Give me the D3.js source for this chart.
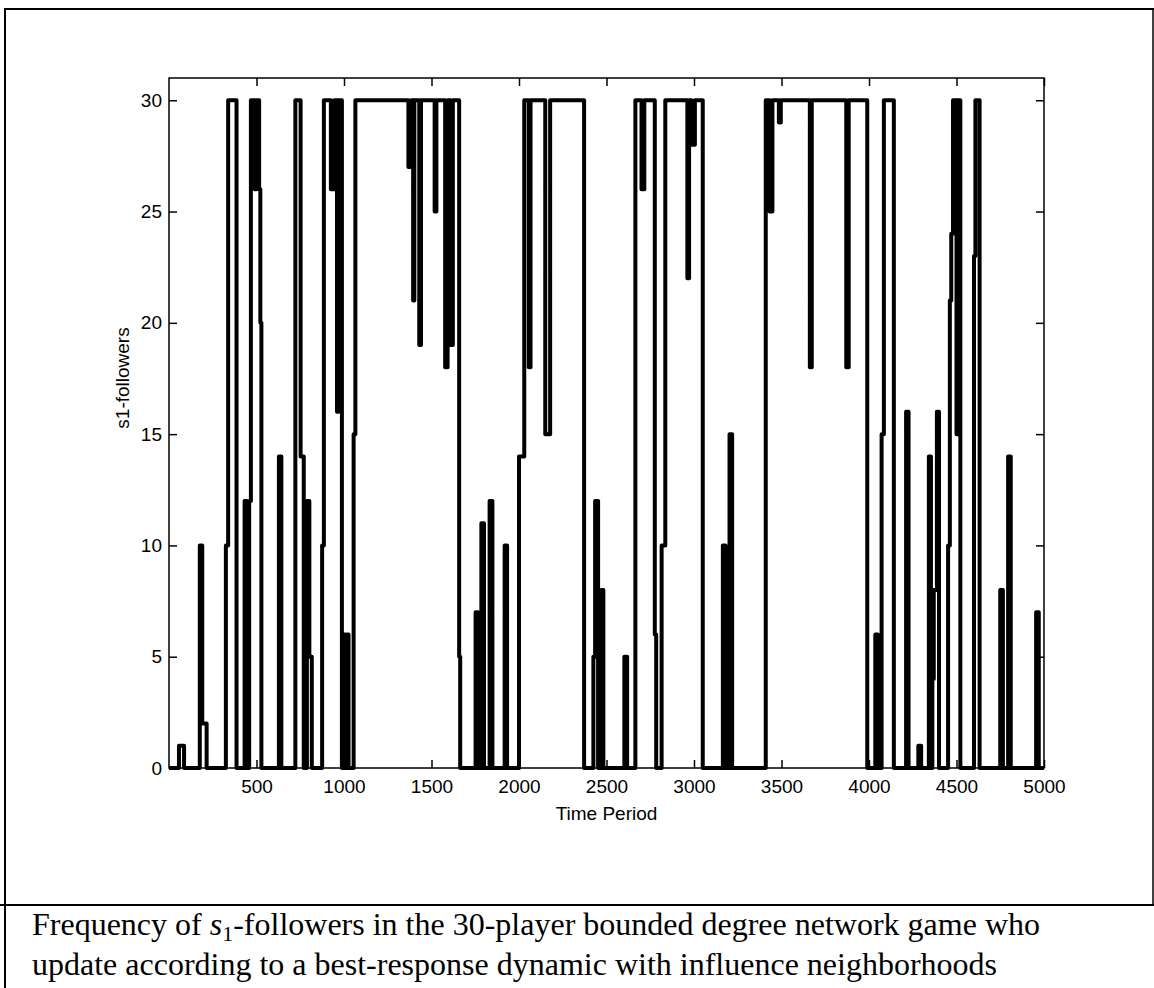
<!DOCTYPE html>
<html>
<head>
<meta charset="utf-8">
<script src="https://cdn.jsdelivr.net/npm/d3@7"></script>
<style>
	body{ margin: 0; background: white; }
	svg text{ fill: black; }
	.ticklabel{ font-family: "Liberation Sans", Arial, sans-serif; font-size: 19px; }
	.caption{ font-family: "Liberation Serif", "Times New Roman", serif; font-size: 32px; }
</style>
</head>
<body>
<svg id="figure" width="1154" height="988"></svg>
<script>

// Breakpoints of the series: from periods[i] on the count is followers[i].
let periods = [
	0, 57, 86, 176, 190, 215, 325, 338, 386,
	432, 446, 458, 468, 490, 500, 515, 522, 528,
	628, 642, 722, 752, 770, 788, 802, 816,
	875, 885, 925, 945, 960, 968, 988, 1000, 1008, 1016, 1026,
	1055, 1065, 1368, 1385, 1395, 1402, 1430, 1440, 1518, 1528,
	1578, 1592, 1610, 1622, 1658, 1664,
	1752, 1765, 1785, 1800, 1832, 1848, 1918, 1932,
	2000, 2030, 2056, 2066, 2150, 2178, 2372,
	2425, 2435, 2452, 2470, 2482, 2602, 2618,
	2665, 2700, 2716, 2776, 2784, 2815, 2836,
	2962, 2972, 2985, 3005, 3050,
	3165, 3180, 3203, 3218,
	3410, 3432, 3448, 3485, 3496, 3662, 3673, 3870, 3884, 3990,
	4036, 4050, 4072, 4085, 4142, 4212, 4226, 4282, 4298,
	4342, 4354, 4362, 4370, 4388, 4400,
	4452, 4462, 4470, 4480, 4500, 4508, 4522,
	4600, 4608, 4632, 4750, 4765, 4795, 4810, 4955, 4970
];
let followers = [
	0, 1, 0, 10, 2, 0, 10, 30, 0,
	12, 0, 12, 30, 26, 30, 26, 20, 0,
	14, 0, 30, 14, 0, 12, 5, 0,
	10, 30, 26, 30, 16, 30, 0, 6, 0, 6, 0,
	15, 30, 27, 30, 21, 30, 19, 30, 25, 30,
	18, 30, 19, 30, 5, 0,
	7, 0, 11, 0, 12, 0, 10, 0,
	14, 30, 18, 30, 15, 30, 0,
	5, 12, 0, 8, 0, 5, 0,
	30, 26, 30, 6, 0, 10, 30,
	22, 30, 28, 30, 0,
	10, 0, 15, 0,
	30, 25, 30, 29, 30, 18, 30, 18, 30, 0,
	6, 0, 15, 30, 0, 16, 0, 1, 0,
	14, 0, 4, 8, 16, 0,
	10, 21, 24, 30, 15, 30, 0,
	23, 30, 0, 8, 0, 14, 0, 7, 0
];

let xTicks = [500, 1000, 1500, 2000, 2500, 3000, 3500, 4000, 4500, 5000];
let yTicks = [0, 5, 10, 15, 20, 25, 30];

let xLabel = "Time Period";
let yLabel = "s1-followers";

// Caption pieces, the s1 is set as math: italic s with subscript 1.
let captionStart = "Frequency of ";
let captionSymbol = "s";
let captionIndex = "1";
let captionRest = "-followers in the 30-player bounded degree network game who";
let captionLine2 = "update according to a best-response dynamic with influence neighborhoods";



let svg = d3.select("#figure");

// Plot box in pixels.
let box = {left: 169, right: 1044, top: 78, bottom: 768};

let x = d3.scaleLinear().domain([0, 5000]).range([box.left, box.right]);
let y = d3.scaleLinear().domain([0, 31]).range([box.bottom, box.top]);


// Outer frame of the scanned figure and the caption rule.
let frame = svg.append("g").attr("stroke", "black").attr("fill", "none");
frame.append("line").attr("x1", 5).attr("x2", 1154).attr("y1", 9).attr("y2", 9).attr("stroke-width", 2);
frame.append("line").attr("x1", 5).attr("x2", 5).attr("y1", 8).attr("y2", 988).attr("stroke-width", 2);
frame.append("line").attr("x1", 1153).attr("x2", 1153).attr("y1", 9).attr("y2", 905).attr("stroke-width", 1.5);
frame.append("line").attr("x1", 0).attr("x2", 1154).attr("y1", 905).attr("y2", 905).attr("stroke-width", 2);


// Series, drawn first so that the box sits on top of it.
let points = periods.map((t, i)=>({t: t, v: followers[i]}));
points.push({t: 5000, v: followers[followers.length-1]});

let line = d3.line()
	.x(d=>x(d.t))
	.y(d=>y(d.v))
	.curve(d3.curveStepAfter);

svg.append("path")
	.datum(points)
	.attr("d", line)
	.attr("fill", "none")
	.attr("stroke", "black")
	.attr("stroke-width", 4)
	.attr("stroke-linejoin", "round");


// Axes: MATLAB style, ticks point inwards on all four sides.
let tick = 8;

let gBottom = svg.append("g")
	.attr("transform", `translate(0,${box.bottom})`)
	.call(d3.axisBottom(x).tickValues(xTicks).tickSize(-tick).tickPadding(12).tickFormat(d3.format("d")));
let gTop = svg.append("g")
	.attr("transform", `translate(0,${box.top})`)
	.call(d3.axisTop(x).tickValues(xTicks).tickSize(-tick).tickFormat(""));
let gLeft = svg.append("g")
	.attr("transform", `translate(${box.left},0)`)
	.call(d3.axisLeft(y).tickValues(yTicks).tickSize(-tick).tickPadding(7).tickFormat(d3.format("d")));
let gRight = svg.append("g")
	.attr("transform", `translate(${box.right},0)`)
	.call(d3.axisRight(y).tickValues(yTicks).tickSize(-tick).tickFormat(""));

[gBottom, gTop, gLeft, gRight].forEach(g=>{
	g.select(".domain").remove();
	g.selectAll("line").attr("stroke", "black").attr("stroke-width", 1.5);
	g.selectAll("text").attr("class", "ticklabel").attr("font-family", null).attr("font-size", null);
}); // forEach

svg.append("rect")
	.attr("x", box.left).attr("y", box.top)
	.attr("width", box.right - box.left).attr("height", box.bottom - box.top)
	.attr("fill", "none").attr("stroke", "black").attr("stroke-width", 1.5);


// Axis titles.
svg.append("text")
	.attr("class", "ticklabel")
	.attr("x", (box.left + box.right)/2).attr("y", 820)
	.attr("text-anchor", "middle")
	.text(xLabel);

svg.append("text")
	.attr("class", "ticklabel")
	.attr("transform", "translate(129,378) rotate(-90)")
	.attr("text-anchor", "middle")
	.text(yLabel);


// Caption under the rule.
let cap1 = svg.append("text").attr("class", "caption").attr("x", 32).attr("y", 935);
cap1.append("tspan").text(captionStart);
cap1.append("tspan").attr("font-style", "italic").text(captionSymbol);
cap1.append("tspan").attr("font-size", "22px").attr("dy", 6).text(captionIndex);
cap1.append("tspan").attr("dy", -6).text(captionRest);

svg.append("text").attr("class", "caption").attr("x", 32).attr("y", 975).text(captionLine2);

</script>
</body>
</html>
